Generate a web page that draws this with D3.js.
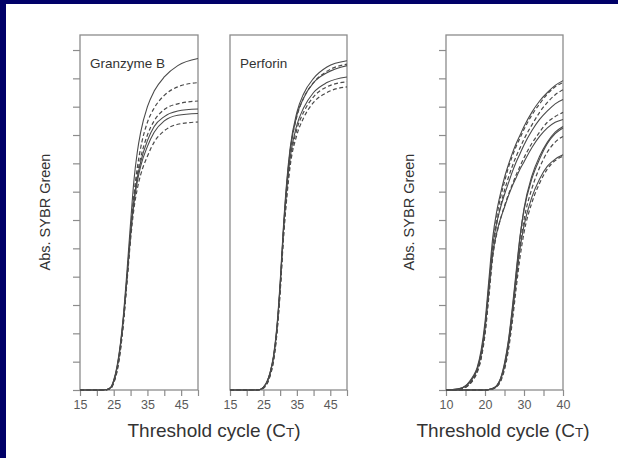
<!DOCTYPE html>
<html>
<head>
<meta charset="utf-8">
<script src="https://cdn.jsdelivr.net/npm/d3@7"></script>
<style>
  html, body { margin: 0; padding: 0; background: #000068; }
  svg { display: block; }
</style>
</head>
<body>
<div id="chart-container"></div>
<script>
// ---- data ----
// cycles where the curves of the two left panels were read
const leftCycles = [15, 22, 24, 25, 26, 27, 28, 29, 30, 31, 32, 33, 35, 37, 40, 44, 50];

// Granzyme B curves (solid / dashed)
const gzmSolid1 = [0, 0, 0.08, 0.35, 0.85, 1.65, 2.8, 4.3, 5.9, 7.4, 8.4, 9.1, 10.0, 10.55, 11.05, 11.45, 11.7];
const gzmDash1  = [0, 0, 0.05, 0.28, 0.72, 1.5, 2.6, 4.05, 5.6, 6.9, 7.85, 8.55, 9.45, 9.95, 10.4, 10.7, 10.85];
const gzmDash2  = [0, 0, 0.05, 0.27, 0.7, 1.45, 2.55, 4.0, 5.5, 6.75, 7.6, 8.2, 9.0, 9.5, 9.9, 10.1, 10.2];
const gzmSolid2 = [0, 0, 0.07, 0.32, 0.8, 1.6, 2.7, 4.1, 5.55, 6.7, 7.5, 8.05, 8.8, 9.3, 9.65, 9.85, 9.92];
const gzmSolid3 = [0, 0, 0.07, 0.3, 0.78, 1.55, 2.65, 4.0, 5.45, 6.6, 7.35, 7.9, 8.6, 9.1, 9.5, 9.7, 9.76];
const gzmDash3  = [0, 0, 0.04, 0.25, 0.66, 1.4, 2.5, 3.9, 5.3, 6.4, 7.1, 7.6, 8.25, 8.75, 9.15, 9.38, 9.46];

// Perforin curves
const prfSolid1 = [0, 0, 0.02, 0.1, 0.28, 0.62, 1.2, 2.2, 3.8, 5.8, 7.4, 8.55, 9.8, 10.45, 11.0, 11.4, 11.62];
const prfDash1  = [0, 0, 0.01, 0.08, 0.24, 0.55, 1.1, 2.05, 3.6, 5.6, 7.2, 8.4, 9.65, 10.3, 10.85, 11.25, 11.5];
const prfSolid2 = [0, 0, 0.02, 0.09, 0.26, 0.6, 1.15, 2.15, 3.7, 5.7, 7.3, 8.45, 9.7, 10.3, 10.85, 11.2, 11.45];
const prfSolid3 = [0, 0, 0.02, 0.1, 0.27, 0.6, 1.15, 2.1, 3.65, 5.6, 7.1, 8.2, 9.35, 9.95, 10.5, 10.85, 11.05];
const prfDash2  = [0, 0, 0.01, 0.07, 0.22, 0.52, 1.05, 2.0, 3.5, 5.45, 6.95, 8.05, 9.2, 9.8, 10.35, 10.7, 10.88];
const prfDash3  = [0, 0, 0.01, 0.06, 0.2, 0.5, 1.0, 1.95, 3.45, 5.35, 6.8, 7.9, 9.0, 9.6, 10.15, 10.5, 10.7];

// right panel
const rightCycles = [10, 13, 15, 16, 17, 18, 19, 20, 21, 22, 23, 24, 25, 26, 27, 28, 29, 30, 32, 34, 36, 38, 40];
const earlySolid1 = [0, 0.03, 0.15, 0.3, 0.5, 0.8, 1.4, 2.4, 3.9, 5.4, 6.3, 6.95, 7.5, 7.95, 8.35, 8.7, 9.0, 9.3, 9.8, 10.2, 10.5, 10.75, 10.92];
const earlyDash1  = [0, 0.02, 0.1, 0.22, 0.4, 0.68, 1.2, 2.15, 3.6, 5.1, 6.1, 6.8, 7.35, 7.85, 8.25, 8.6, 8.9, 9.2, 9.7, 10.1, 10.45, 10.7, 10.85];
const earlyDash2  = [0, 0.02, 0.1, 0.2, 0.38, 0.65, 1.15, 2.05, 3.45, 4.9, 5.85, 6.5, 7.05, 7.5, 7.9, 8.25, 8.55, 8.85, 9.35, 9.8, 10.15, 10.42, 10.6];
const earlySolid2 = [0, 0.03, 0.13, 0.27, 0.46, 0.75, 1.3, 2.25, 3.7, 5.1, 5.9, 6.45, 6.9, 7.3, 7.7, 8.05, 8.35, 8.65, 9.15, 9.55, 9.85, 10.1, 10.25];
const earlyDash3  = [0, 0.02, 0.09, 0.2, 0.36, 0.62, 1.1, 1.95, 3.3, 4.7, 5.5, 6.05, 6.5, 6.9, 7.25, 7.6, 7.9, 8.2, 8.7, 9.1, 9.45, 9.65, 9.8];
const earlySolid3 = [0, 0.03, 0.12, 0.25, 0.44, 0.72, 1.25, 2.15, 3.5, 4.8, 5.55, 6.05, 6.45, 6.85, 7.2, 7.5, 7.8, 8.05, 8.55, 8.95, 9.25, 9.45, 9.55];
const lateSolid1  = [0, 0, 0, 0, 0, 0, 0, 0, 0.02, 0.06, 0.15, 0.4, 0.9, 1.7, 2.8, 4.1, 5.4, 6.4, 7.55, 8.25, 8.75, 9.1, 9.3];
const lateSolid2  = [0, 0, 0, 0, 0, 0, 0, 0, 0.02, 0.06, 0.16, 0.42, 0.95, 1.75, 2.9, 4.2, 5.45, 6.35, 7.45, 8.15, 8.7, 9.05, 9.25];
const lateDash1   = [0, 0, 0, 0, 0, 0, 0, 0, 0.01, 0.04, 0.12, 0.33, 0.78, 1.5, 2.6, 3.9, 5.1, 6.0, 7.1, 7.85, 8.4, 8.75, 8.95];
const lateSolid3  = [0, 0, 0, 0, 0, 0, 0, 0, 0.02, 0.05, 0.13, 0.36, 0.82, 1.55, 2.6, 3.85, 5.0, 5.8, 6.8, 7.45, 7.9, 8.15, 8.3];
const lateDash2   = [0, 0, 0, 0, 0, 0, 0, 0, 0.01, 0.04, 0.11, 0.3, 0.72, 1.4, 2.4, 3.6, 4.7, 5.55, 6.6, 7.3, 7.8, 8.1, 8.25];

// ticks
const yTicks = [0, 1, 2, 3, 4, 5, 6, 7, 8, 9, 10, 11, 12];
const leftXTicks = [15, 20, 25, 30, 35, 40, 45, 50];
const leftXLabels = ["15", "", "25", "", "35", "", "45", ""];
const rightXTicks = [10, 15, 20, 25, 30, 35, 40];
const rightXLabels = ["10", "", "20", "", "30", "", "40"];

const yLabel = "Abs. SYBR Green";
const xTitle = "Threshold cycle (C";
const xTitleSub = "T";

// ---- drawing ----
const width = 618, height = 458;
const font = "'Liberation Sans', Arial, sans-serif";
const lineColor = "#4a4a4a";
const frameColor = "#8c8c8c";

const svg = d3.select("#chart-container")
  .append("svg")
  .attr("width", width)
  .attr("height", height);

// white slide area
svg.append("rect")
  .attr("x", 6).attr("y", 4)
  .attr("width", width - 6).attr("height", height - 4)
  .attr("fill", "#ffffff");

const y = d3.scaleLinear().domain([0, 12.53]).range([390, 35]);

function drawPanel(opts) {
  const x = d3.scaleLinear().domain(opts.domain).range(opts.range);
  const g = svg.append("g");

  // y ticks (left only)
  if (opts.yAxis) {
    g.append("g")
      .attr("transform", `translate(${opts.range[0]},0)`)
      .call(d3.axisLeft(y).tickValues(yTicks).tickSize(7).tickFormat(""))
      .call(a => a.select(".domain").remove())
      .call(a => a.selectAll("line").attr("stroke", frameColor).attr("stroke-width", 1.2));
  }

  // x axis
  g.append("g")
    .attr("transform", "translate(0,390)")
    .call(d3.axisBottom(x).tickValues(opts.xTicks).tickSize(6).tickPadding(4)
      .tickFormat((d, i) => opts.xLabels[i]))
    .call(a => a.select(".domain").remove())
    .call(a => a.selectAll("line").attr("stroke", frameColor).attr("stroke-width", 1.2))
    .call(a => a.selectAll("text")
      .attr("fill", "#5a5a5a")
      .style("font-family", font)
      .style("font-size", "12.5px"));

  // frame
  g.append("rect")
    .attr("x", opts.range[0])
    .attr("y", 35)
    .attr("width", opts.range[1] - opts.range[0])
    .attr("height", 355)
    .attr("fill", "none")
    .attr("stroke", frameColor)
    .attr("stroke-width", 1.3);

  const line = d3.line()
    .x(d => x(d[0]))
    .y(d => y(d[1]))
    .curve(d3.curveMonotoneX);

  opts.series.forEach(s => {
    g.append("path")
      .datum(opts.cycles.map((c, i) => [c, s.values[i]]))
      .attr("d", line)
      .attr("fill", "none")
      .attr("stroke", lineColor)
      .attr("stroke-width", s.dashed ? 1.2 : 1.1)
      .attr("stroke-dasharray", s.dashed ? "4,2.5" : null);
  });

  if (opts.name) {
    g.append("text")
      .attr("x", opts.range[0] + 10)
      .attr("y", 68)
      .attr("fill", "#333")
      .style("font-family", font)
      .style("font-size", "13.5px")
      .text(opts.name);
  }
}

drawPanel({
  name: "Granzyme B",
  domain: [15, 50], range: [80, 198],
  xTicks: leftXTicks, xLabels: leftXLabels, yAxis: true,
  cycles: leftCycles,
  series: [
    { values: gzmSolid1 }, { values: gzmDash1, dashed: true }, { values: gzmDash2, dashed: true },
    { values: gzmSolid2 }, { values: gzmSolid3 }, { values: gzmDash3, dashed: true }
  ]
});

drawPanel({
  name: "Perforin",
  domain: [15, 50], range: [230, 347],
  xTicks: leftXTicks, xLabels: leftXLabels, yAxis: false,
  cycles: leftCycles,
  series: [
    { values: prfSolid1 }, { values: prfDash1, dashed: true }, { values: prfSolid2 },
    { values: prfSolid3 }, { values: prfDash2, dashed: true }, { values: prfDash3, dashed: true }
  ]
});

drawPanel({
  name: null,
  domain: [10, 40], range: [446, 563],
  xTicks: rightXTicks, xLabels: rightXLabels, yAxis: true,
  cycles: rightCycles,
  series: [
    { values: earlySolid1 }, { values: earlyDash1, dashed: true }, { values: earlyDash2, dashed: true },
    { values: earlySolid2 }, { values: earlyDash3, dashed: true }, { values: earlySolid3 },
    { values: lateSolid1 }, { values: lateSolid2 }, { values: lateDash1, dashed: true },
    { values: lateSolid3 }, { values: lateDash2, dashed: true }
  ]
});

// y axis titles
[45, 409].forEach(cx => {
  svg.append("text")
    .attr("transform", `translate(${cx},212) rotate(-90)`)
    .attr("dy", "0.35em")
    .attr("text-anchor", "middle")
    .attr("fill", "#333")
    .style("font-family", font)
    .style("font-size", "14.5px")
    .text(yLabel);
});

// x axis titles
[214, 503].forEach(cx => {
  const t = svg.append("text")
    .attr("x", cx)
    .attr("y", 437)
    .attr("text-anchor", "middle")
    .attr("fill", "#333")
    .style("font-family", font)
    .style("font-size", "19px");
  t.append("tspan").text(xTitle);
  t.append("tspan").style("font-size", "13.5px").text(xTitleSub);
  t.append("tspan").text(")");
});
</script>
</body>
</html>
